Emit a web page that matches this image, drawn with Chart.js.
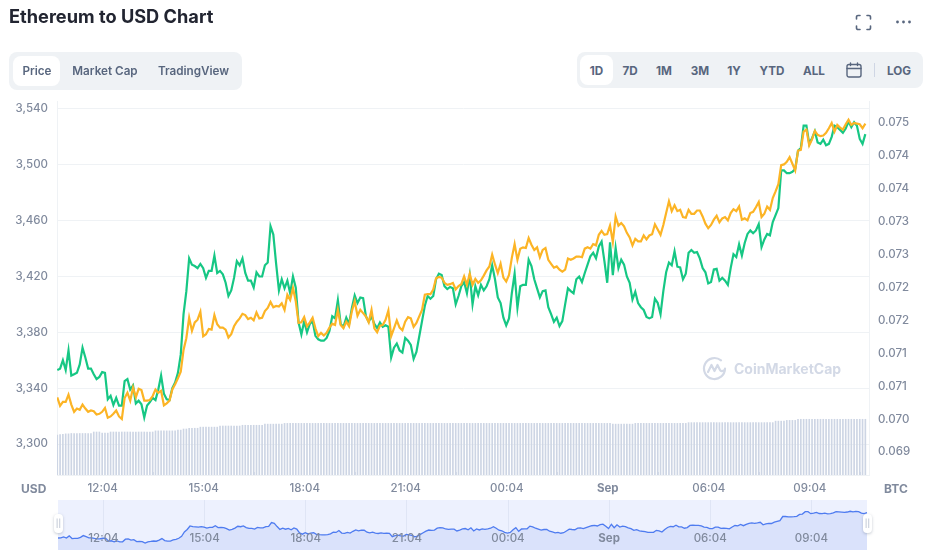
<!DOCTYPE html>
<html>
<head>
<meta charset="utf-8">
<title>Ethereum to USD Chart</title>
<script src="https://cdn.jsdelivr.net/npm/chart.js@4/dist/chart.umd.min.js"></script>
<style>
html, body { margin: 0; padding: 0; background: #fff; }
body { width: 936px; height: 560px; overflow: hidden; position: relative; font-family: Inter, sans-serif; color: #58667e; }
canvas { position: absolute; left: 0; }
.abs { position: absolute; white-space: nowrap; }
h1 { position: absolute; left: 9px; top: 5px; margin: 0; font-size: 18.2px; line-height: 22px; font-weight: 700; color: #222531; }
.group { position: absolute; background: #eff2f5; border-radius: 8px; }
.on { position: absolute; background: #fff; border-radius: 8px; }
.tab { position: absolute; font-size: 11.7px; line-height: 14px; font-weight: 600; transform: translateX(-50%); white-space: nowrap; }
.tab.b { font-weight: 700; }
.unit { position: absolute; top: 481.5px; font-size: 12px; line-height: 14px; font-weight: 700; color: #808a9d; }
.mark { position: absolute; left: 702px; top: 356px; display: flex; align-items: center; color: #d3d9e6; font-weight: 700; font-size: 14px; }
.handle { position: absolute; top: 514px; width: 9px; height: 19px; background: #fff; border-radius: 4px; box-shadow: 0 1px 3px rgba(88,102,126,.35); color: #a6b0c3; font-size: 8px; line-height: 19px; text-align: center; }
</style>
</head>
<body>
<canvas id="mainChart" style="top:0" width="936" height="500"></canvas>
<canvas id="navChart" style="top:500px" width="936" height="50"></canvas>

<h1>Ethereum to USD Chart</h1>

<svg class="abs" style="left:855px;top:14px" width="17" height="17" viewBox="0 0 17 17" fill="none" stroke="#58667e" stroke-width="1.6" stroke-linecap="round">
  <path d="M1.5 5V3a1.5 1.5 0 0 1 1.5-1.5h2M12 1.5h2A1.5 1.5 0 0 1 15.5 3v2M15.5 12v2a1.5 1.5 0 0 1-1.5 1.5h-2M5 15.5H3A1.5 1.5 0 0 1 1.5 14v-2"/>
</svg>
<svg class="abs" style="left:895px;top:19px" width="17" height="6" viewBox="0 0 17 6" fill="#58667e">
  <circle cx="2.5" cy="3" r="1.4"/><circle cx="8.5" cy="3" r="1.4"/><circle cx="14.5" cy="3" r="1.4"/>
</svg>

<div class="group" style="left:9px;top:52px;width:233px;height:38px"></div>
<div class="on" style="left:13px;top:56px;width:47px;height:30px"></div>
<div class="tab" style="left:37px;top:64px">Price</div>
<div class="tab" style="left:105px;top:64px">Market Cap</div>
<div class="tab" style="left:193.500px;top:64px">TradingView</div>

<div class="group" style="left:577px;top:52px;width:346px;height:36px"></div>
<div class="on" style="left:580px;top:55px;width:33px;height:30px"></div>
<div class="tab b" style="left:596.5px;top:64px">1D</div>
<div class="tab b" style="left:630px;top:64px">7D</div>
<div class="tab b" style="left:664px;top:64px">1M</div>
<div class="tab b" style="left:700px;top:64px">3M</div>
<div class="tab b" style="left:734px;top:64px">1Y</div>
<div class="tab b" style="left:772px;top:64px">YTD</div>
<div class="tab b" style="left:814px;top:64px">ALL</div>
<svg class="abs" style="left:846px;top:62px" width="16" height="16" viewBox="0 0 16 16" fill="none" stroke="#58667e" stroke-width="1.4" stroke-linecap="round">
  <rect x="1" y="2.5" width="14" height="12.5" rx="2"/><path d="M1 6.5h14M4.5 1v2.5M11.5 1v2.5"/>
</svg>
<div class="abs" style="left:874px;top:63px;width:1px;height:14px;background:#cfd6e4"></div>
<div class="tab b" style="left:899px;top:64px">LOG</div>

<div class="unit" style="left:21px">USD</div>
<div class="unit" style="left:884px">BTC</div>

<div class="mark">
  <svg width="25" height="25" viewBox="0 0 25 25" fill="none" stroke="#d3d9e6" stroke-width="2.2" stroke-linecap="round" stroke-linejoin="round" style="margin-right:7px">
    <path d="M23 12.5a10.5 10.5 0 1 1-4-8.2"/><path d="M6 16l3.5-7 3 6 3-6 2.5 5c.7 1.400 2.500 1.400 4 .5"/>
  </svg>
  <span>CoinMarketCap</span>
</div>

<div class="handle" style="left:54px">||</div>
<div class="handle" style="left:863px">||</div>

<script>
var startMinute = 643;
var stepMinutes = 5;

var priceUsd = [
  3353,3354,3360,3353,3367,3349,3350,3351,3357,3369,3362,3354,3354,3350,3346.5,3348,3351.5,3351,3332,3334.5,
  3328,3333,3327.5,3327.5,3345,3346.5,3339,3342,3329,3331,3328.5,3319,3327.5,3330,3333,3331.5,3339,3349,3336,3332,
  3331.5,3340,3344,3351,3364,3393,3409.5,3433,3428.5,3427.5,3426,3429,3426,3419,3424,3424,3435,3422.5,3424,3421.5,
  3415.5,3406,3410,3419,3431,3428,3433,3422.5,3417,3417,3412,3423,3420,3420,3428,3430,3456,3450,3429,3410,
  3418,3411.5,3417,3408,3420,3412,3387,3378.5,3388,3380,3386,3388,3377.5,3375,
  3374,3374,3376,3381,3391.5,3390,3403,3386,3384,3390.5,3386,3397.5,3406.5,3401,3405,3404.5,3391.5,3387.5,3391.5,3386,
  3383,3387,3384,3385,3384,3362,3369,3372,3367,3365.5,3376,3374,3371,3361,3366,3377,3388,3399,3406,3404,
  3406,3418,3422,3421,3413,3411,3412.5,3411.5,3400,3406,3413,3416,3408,3421,3400,3413,3406.5,3414,3410,3413,
  3418,3428,3418,3405,3401,3390.5,3385,3390,3408,3422,3397.5,3413,3414,3414,3432,3427.5,3418,3411.5,3405,3409.5,
  3410,3398,3393,3387.5,3390.5,3384.5,3388,3400,3411.5,3409.5,3408,3418,3420,3416,3422.5,3428.5,3434.5,3437,3433,3441.5,
  3445,3431,3415.5,3444.5,3421,3440.5,3426,
  3432,3428.5,3420,3415.5,3403.5,3409,3401,3398,3396,3391,3390,3391,3404,3401,3393,3409.5,3423,3430,3428,3438,
  3427,3426.5,3418,3422,3437,3439,3437,3437.5,3433,3426,3423,3415,3416,3425,3425.5,3417,3419,3417,3414,3426,
  3436,3434,3443,3435,3444,3450.5,3453,3451,3453,3457.5,3441,3446.5,3450.5,3449.5,3459,3464,3469,3496,3496,3494,
  3494,3495,3497,3510,3512,3528,3528,3515,3519,3524,3516,3515,3518,3514,3515,3520,3528,3527,3525,3523,
  3526,3531,3527,3530.5,3528,3518.5,3515,3522
];

var priceBtc = [
  .07083,.07070,.07076,.07076,.07087,.07072,.07061,.07066,.07064,.07072,.07066,.07061,.07063,.07062,.07057,.07058,.07061,.07067,.07052,.07054,
  .07058,.07063,.07054,.07050,.07082,.07090,.07078,.07098,.07083,.07096,.07094,.07078,.07078,.07079,.07085,.07095,.07090,.07093,.07071,.07074,
  .07078,.07095,.07103,.07112,.07122,.07155,.07173,.07204,.07184,.07197,.07201,.07213,.07176,.07179,.07187,.07186,.07208,.07194,.07189,.07189,
  .07186,.07174,.07179,.07191,.07198,.07203,.07210,.07208,.07202,.07204,.07200,.07212,.07203,.07204,.07214,.07219,.07228,.07220,.07222,.07221,
  .07226,.07216,.07239,.07231,.07249,.07229,.07196,.07197,.07205,.07191,.07197,.07204,.07188,.07176,
  .07181,.07177,.07181,.07189,.07195,.07193,.07216,.07193,.07188,.07198,.07191,.07214,.07229,.07207,.07216,.07211,.07206,.07197,.07216,.07188,
  .07182,.07192,.07193,.07201,.07215,.07176,.07188,.07200,.07189,.07185,.07198,.07205,.07203,.07190,.07196,.07206,.07216,.07239,.07240,.07240,
  .07247,.07264,.07266,.07265,.07257,.07254,.07255,.07257,.07247,.07252,.07255,.07267,.07254,.07271,.07254,.07263,.07257,.07261,.07268,.07276,
  .07282,.07300,.07285,.07272,.07286,.07265,.07259,.07269,.07295,.07316,.07292,.07309,.07311,.07310,.07325,.07315,.07307,.07311,.07296,.07307,
  .07310,.07292,.07286,.07280,.07282,.07277,.07274,.07277,.07294,.07292,.07294,.07297,.07297,.07296,.07309,.07311,.07309,.07316,.07314,.07330,
  .07336,.07330,.07331,.07344,.07319,.07358,.07344,
  .07348,.07343,.07333,.07326,.07314,.07324,.07320,.07320,.07329,.07323,.07329,.07331,.07346,.07338,.07330,.07345,.07363,.07381,.07366,.07375,
  .07366,.07368,.07357,.07356,.07368,.07362,.07362,.07367,.07367,.07358,.07347,.07340,.07345,.07353,.07359,.07349,.07355,.07357,.07352,.07363,
  .07369,.07366,.07373,.07353,.07355,.07352,.07363,.07365,.07372,.07380,.07357,.07362,.07373,.07368,.07386,.07396,.07407,.07436,.07437,.07441,
  .07448,.07438,.07428,.07458,.07459,.07487,.07490,.07466,.07475,.07488,.07482,.07480,.07481,.07485,.07492,.07500,.07487,.07497,.07493,.07490,
  .07498,.07505,.07497,.07500,.07499,.07498,.07492,.07499
];

// 24h volume, billions of USD
var volumeB = [
  10.7,10.8,10.9,11.0,11.0,11.1,11.1,11.1,11.1,11.1,11.1,11.1,11.1,11.5,11.5,11.5,11.2,11.2,11.2,11.5,
  11.5,11.5,11.5,11.5,11.5,11.5,11.5,11.5,11.5,11.5,11.5,11.5,11.5,11.5,11.5,11.8,11.8,11.8,11.8,11.8,
  11.8,11.8,11.8,12.0,12.0,12.3,12.3,12.5,12.5,12.5,12.5,12.8,12.8,12.8,12.8,12.8,12.8,12.8,13.1,13.1,
  13.1,13.1,13.1,13.1,13.1,13.1,13.3,13.3,13.3,13.3,13.3,13.3,13.3,13.3,13.6,13.6,13.6,13.6,13.6,13.6,
  13.6,13.8,13.8,13.8,13.8,13.8,13.8,13.8,13.8,13.8,13.8,13.8,13.8,13.8,13.8,13.8,13.8,13.8,13.8,13.8,
  13.8,13.8,13.8,13.8,13.8,13.8,13.8,13.8,13.8,13.8,13.8,13.8,13.8,13.8,13.8,13.8,13.8,13.8,13.8,13.8,
  13.8,13.8,13.8,13.8,13.8,13.8,13.8,13.8,13.8,13.8,13.8,13.8,13.8,13.8,13.8,13.8,13.8,13.8,13.8,13.8,
  13.8,13.8,13.8,13.8,13.8,13.8,13.8,13.8,13.8,13.8,13.8,13.8,13.8,13.8,13.8,13.8,13.8,13.8,13.8,13.8,
  13.8,13.8,13.8,13.8,13.8,13.8,13.8,13.8,13.8,13.8,13.8,13.8,13.8,13.8,13.8,13.8,13.8,13.8,13.8,13.8,
  13.8,13.8,13.8,13.8,13.8,13.8,13.8,13.8,13.8,13.8,13.8,13.8,13.8,13.8,13.8,13.8,13.8,13.8,13.6,13.6,
  13.6,13.6,13.6,13.6,13.6,13.6,13.8,13.8,13.8,13.8,13.8,13.8,13.8,13.8,13.8,13.8,13.8,13.8,13.8,13.8,
  13.8,13.8,13.8,13.8,13.8,14.0,14.0,14.0,14.0,14.0,14.0,14.0,14.0,14.0,14.0,14.0,14.0,14.0,14.0,14.0,
  14.0,14.0,14.0,14.0,14.0,14.0,14.0,14.0,14.0,14.0,14.0,14.0,14.0,14.0,14.0,14.0,14.4,14.4,14.4,14.4,
  14.6,14.6,14.6,14.6,14.9,14.9,14.9,14.9,14.9,14.9,14.9,14.9,14.9,14.9,14.9,14.9,14.9,14.9,14.9,14.9,
  14.9,14.9,14.9,14.9,14.9,14.9,14.9,14.9,14.9
];

var usdTicks = [3300, 3340, 3380, 3420, 3460, 3500, 3540];
var btcTicks = [.0750, .0745, .0740, .0735, .0730, .0725, .0720, .0715, .0710, .0705, .0700];
var btcTickLabels = ['0.075', '0.074', '0.074', '0.073', '0.073', '0.072', '0.072', '0.071', '0.071', '0.070', '0.069'];
var timeTicks = [724, 904, 1084, 1264, 1444, 1624, 1804, 1984];
var timeTickLabels = ['12:04', '15:04', '18:04', '21:04', '00:04', 'Sep', '06:04', '09:04'];

var minutes = [];
for (var i = 0; i < priceUsd.length; i++) {
    minutes.push(startMinute + i * stepMinutes);
}

function xy(values) {
    return values.map(function(v, i) { return { x: minutes[i], y: v }; });
}

function setTicks(values) {
    return function(scale) {
        scale.ticks = values.map(function(v) { return { value: v }; });
    };
}

function timeLabel(v, index) {
    return timeTickLabels[index];
}

var tickFont = { family: 'Inter', size: 11.5, weight: '500' };

Chart.defaults.animation = false;
Chart.defaults.responsive = false;

new Chart(document.getElementById('mainChart'), {
    data: {
        datasets: [{
            type: 'line',
            data: xy(priceUsd),
            yAxisID: 'y',
            borderColor: '#16c784',
            borderWidth: 2.2,
            pointRadius: 0,
            tension: 0,
            order: 2
        }, {
            type: 'line',
            data: xy(priceBtc),
            yAxisID: 'btc',
            borderColor: '#fcb425',
            borderWidth: 2.2,
            pointRadius: 0,
            tension: 0,
            order: 1
        }, {
            type: 'bar',
            data: xy(volumeB),
            yAxisID: 'vol',
            backgroundColor: '#cdd5e4',
            barThickness: 1,
            order: 3
        }]
    },
    options: {
        layout: { padding: { left: 0, right: 0, top: 101, bottom: 0 } },
        plugins: { legend: { display: false }, tooltip: { enabled: false } },
        scales: {
            x: {
                type: 'linear',
                offset: false,
                min: 642.5,
                max: 2089.5,
                afterBuildTicks: setTicks(timeTicks),
                afterFit: function(scale) { scale.height = 25; },
                grid: { drawOnChartArea: false, drawTicks: true, tickLength: -3, color: '#d8deea' },
                border: { color: '#eff2f5' },
                ticks: {
                    font: function(ctx) {
                        var bold = timeTickLabels[ctx.index] === 'Sep';
                        return { family: 'Inter', size: 11.5, weight: bold ? '700' : '500' };
                    },
                    color: '#808a9d', padding: 10,
                    maxRotation: 0, autoSkip: false,
                    callback: timeLabel
                }
            },
            y: {
                position: 'left',
                min: 3277.8,
                max: 3545.7,
                afterBuildTicks: setTicks(usdTicks),
                afterFit: function(scale) { scale.width = 57; },
                grid: { color: '#eff2f5', drawTicks: false },
                border: { color: '#eff2f5' },
                ticks: {
                    font: tickFont, color: '#808a9d', padding: 9,
                    callback: function(v) { return v.toLocaleString('en-US'); }
                }
            },
            btc: {
                position: 'right',
                min: .06965,
                max: .075334,
                afterBuildTicks: setTicks(btcTicks),
                afterFit: function(scale) { scale.width = 67; },
                grid: { display: false, drawTicks: false },
                border: { color: '#eff2f5' },
                ticks: {
                    font: tickFont, color: '#808a9d', padding: 9,
                    callback: function(v, index) { return btcTickLabels[index]; }
                }
            },
            vol: {
                display: false,
                min: 0,
                max: 100
            }
        }
    }
});

// the navigator prints its time labels inside the plot
var navLabels = {
    id: 'navLabels',
    afterDatasetsDraw: function(chart) {
        var c = chart.ctx, s = chart.scales.x, area = chart.chartArea;
        c.save();
        c.fillStyle = '#808a9d';
        c.textAlign = 'center';
        c.textBaseline = 'middle';
        timeTicks.forEach(function(t, i) {
            c.font = (timeTickLabels[i] === 'Sep' ? '700' : '500') + ' 11.5px Inter';
            c.fillText(timeTickLabels[i], s.getPixelForValue(t), area.bottom - 11);
        });
        c.restore();
    },
    beforeDraw: function(chart) {
        var a = chart.chartArea;
        chart.ctx.fillStyle = '#edf1fe';
        chart.ctx.fillRect(a.left, a.top, a.right - a.left, a.bottom - a.top);
    }
};

new Chart(document.getElementById('navChart'), {
    type: 'line',
    data: {
        datasets: [{
            data: xy(priceUsd),
            borderColor: '#4f7cf0',
            borderWidth: 1.3,
            backgroundColor: '#dae2fb',
            fill: 'start',
            pointRadius: 0,
            tension: 0
        }]
    },
    plugins: [navLabels],
    options: {
        layout: { padding: { left: 58, right: 69, top: 0, bottom: 0 } },
        plugins: { legend: { display: false }, tooltip: { enabled: false } },
        scales: {
            x: {
                type: 'linear',
                min: startMinute,
                max: minutes[minutes.length - 1],
                afterBuildTicks: setTicks(timeTicks),
                grid: { color: '#dfe5f5', drawTicks: false },
                border: { display: false },
                ticks: { display: false }
            },
            y: {
                display: false,
                min: 3273,
                max: 3606
            }
        }
    }
});
</script>
</body>
</html>
